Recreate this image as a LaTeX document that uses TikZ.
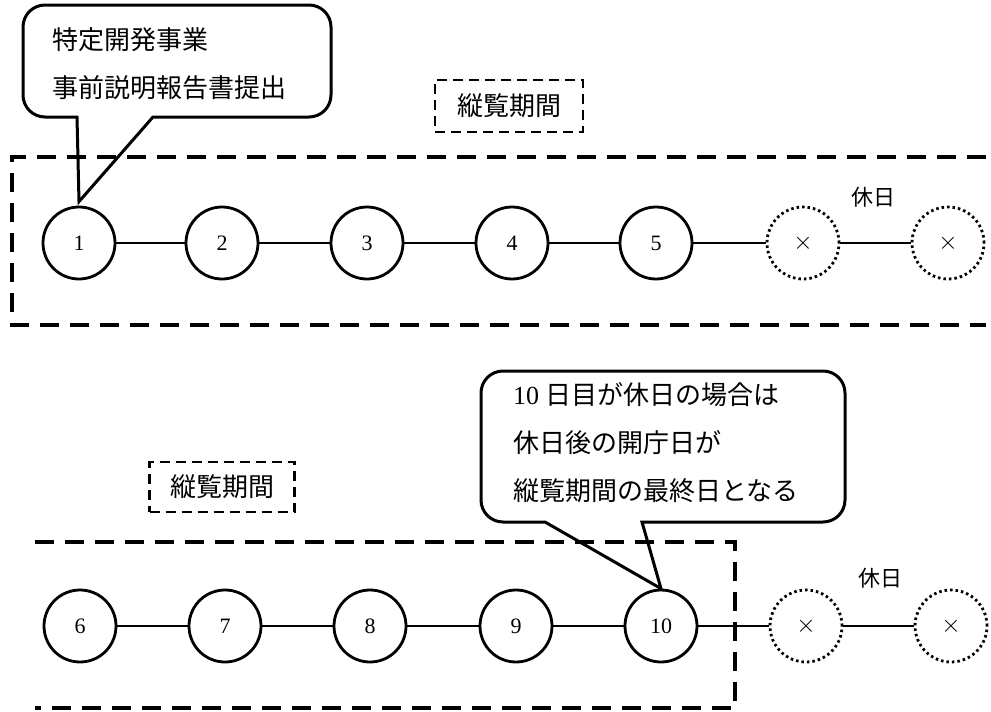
\documentclass[tikz,border=0pt]{standalone}
\usepackage{fontspec}
\newfontfamily\jp{Noto Sans CJK JP}
\newfontfamily\numf{Liberation Serif}
\begin{document}
\begin{tikzpicture}[x=1pt,y=-1pt,
  day/.style={circle, draw, line width=2.8pt, minimum size=72pt, inner sep=0pt, font=\numf\fontsize{22}{22}\selectfont},
  hol/.style={circle, draw, line width=2.8pt, dash pattern=on 2.5pt off 3pt, minimum size=72pt, inner sep=0pt, font=\fontsize{24}{24}\selectfont},
  link/.style={line width=2.5pt},
  frame/.style={line width=3.6pt, dash pattern=on 19pt off 11pt},
  callout/.style={line width=3pt, line join=miter},
  ctext/.style={anchor=west, inner sep=0pt, align=left, font=\jp\fontsize{26}{48}\selectfont},
  period/.style={draw, line width=2.8pt, dash pattern=on 10pt off 6pt, inner sep=0pt, font=\jp\fontsize{26}{26}\selectfont},
  hollabel/.style={inner sep=0pt, font=\jp\fontsize{22}{22}\selectfont}
]
\useasboundingbox (0,0) rectangle (991,712);

% top row
\node[day] (c1) at (79,243) {1};
\node[day] (c2) at (222,243) {2};
\node[day] (c3) at (367,243) {3};
\node[day] (c4) at (512,243) {4};
\node[day] (c5) at (656,243) {5};
\node[hol] (h1) at (803,243) {$\times$};
\node[hol] (h2) at (948,243) {$\times$};
\draw[link] (c1) -- (c2);
\draw[link] (c2) -- (c3);
\draw[link] (c3) -- (c4);
\draw[link] (c4) -- (c5);
\draw[link] (c5) -- (h1);
\draw[link] (h1) -- (h2);
\node[hollabel] (hl1) at (873,197) {休日};

% top frame
\coordinate (fa) at (986,157);
\coordinate (fb) at (12,157);
\coordinate (fc) at (12,325);
\coordinate (fd) at (986,325);
\draw[frame] (fa) -- (fb) -- (fc) -- (fd);
\node[period, minimum width=148pt, minimum height=52pt] (p1) at (509,106) {縦覧期間};

% callout 1
\coordinate (t1) at ([yshift=4pt]c1.north);
\draw[callout] (t1) -- (77,117) {[rounded corners=22pt] -- (23,117) -- (23,5) -- (331,5) -- (331,117)} -- (153,117) -- cycle;
\node[ctext] (txt1) at (52,64) {特定開発事業\\事前説明報告書提出};

% bottom row
\node[day] (c6) at (80,626) {6};
\node[day] (c7) at (225,626) {7};
\node[day] (c8) at (370,626) {8};
\node[day] (c9) at (516,626) {9};
\node[day] (c10) at (661,626) {10};
\node[hol] (h3) at (806,626) {$\times$};
\node[hol] (h4) at (951,626) {$\times$};
\draw[link] (c6) -- (c7);
\draw[link] (c7) -- (c8);
\draw[link] (c8) -- (c9);
\draw[link] (c9) -- (c10);
\draw[link] (c10) -- (h3);
\draw[link] (h3) -- (h4);
\node[hollabel] (hl2) at (880,578) {休日};

% bottom frame
\coordinate (ga) at (35,542);
\coordinate (gb) at (735,542);
\coordinate (gc) at (735,708);
\coordinate (gd) at (35,708);
\draw[frame] (ga) -- (gb) -- (gc) -- (gd);
\node[period, minimum width=145pt, minimum height=50pt] (p2) at (222,487) {縦覧期間};

% callout 2
\coordinate (t2) at (c10.north);
\draw[callout] (t2) -- (545,522) {[rounded corners=22pt] -- (481,522) -- (481,371) -- (845,371) -- (845,522)} -- (642,522) -- cycle;
\node[ctext] (txt2) at (513,443) {{\numf 10} 日目が休日の場合は\\休日後の開庁日が\\縦覧期間の最終日となる};
\end{tikzpicture}
\end{document}
